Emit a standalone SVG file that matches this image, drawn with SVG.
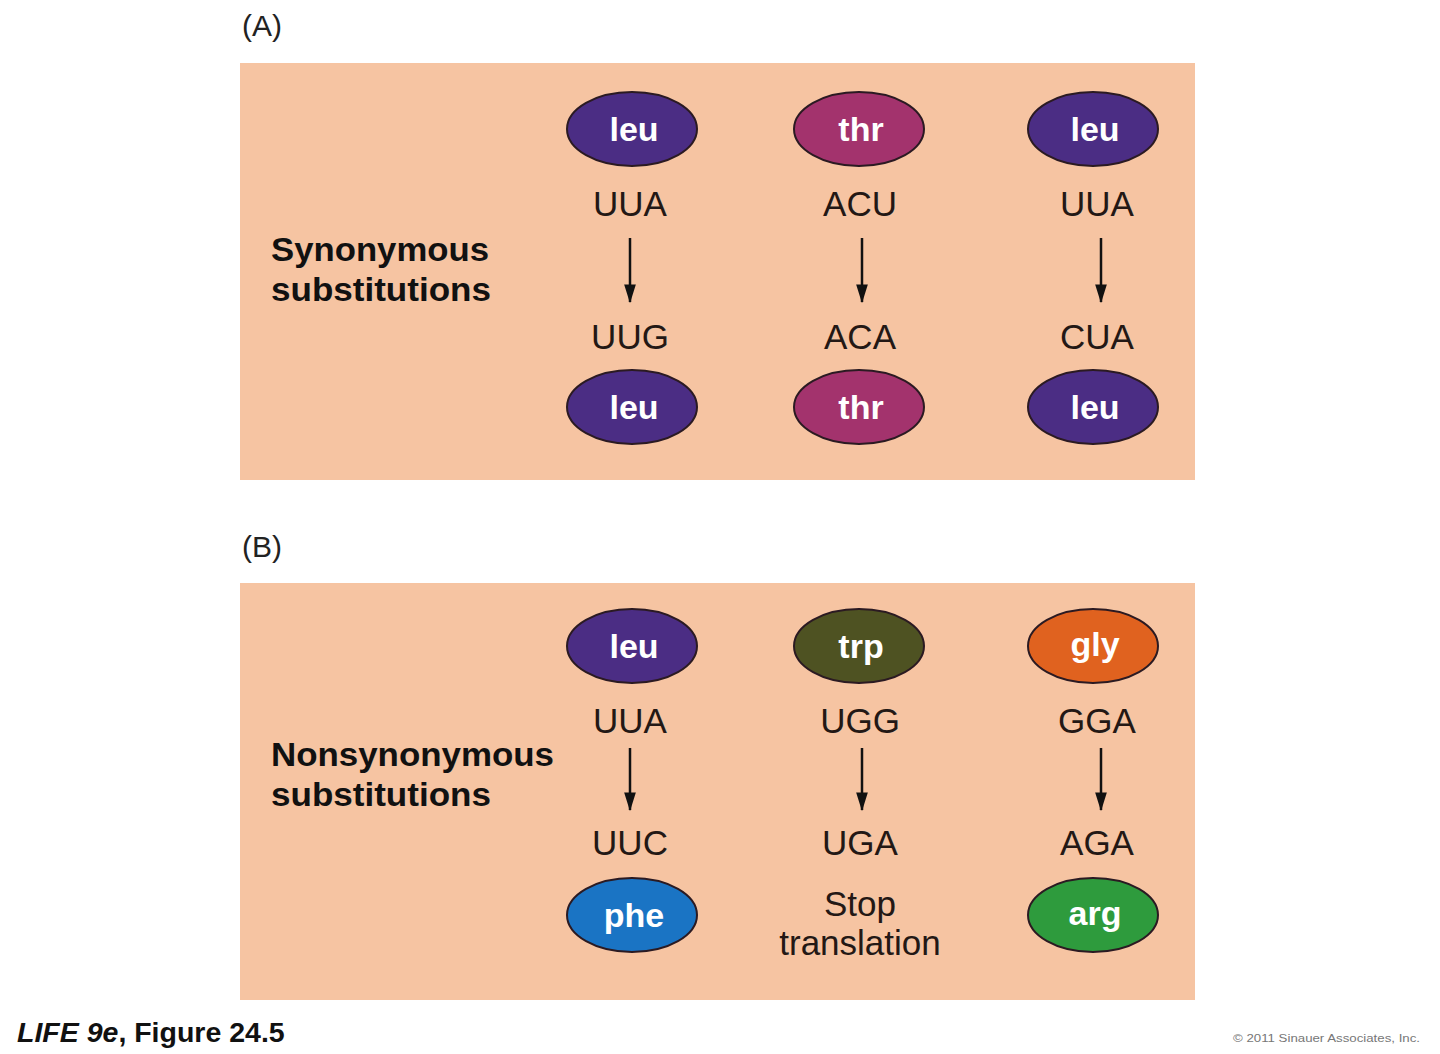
<svg xmlns="http://www.w3.org/2000/svg" width="1440" height="1054" viewBox="0 0 1440 1054">
<defs>
<style>
.panel{fill:#F6C4A2}
.aa{stroke:#2B1A22;stroke-width:2}
.aat{font-family:"Liberation Sans",Arial,sans-serif;font-weight:bold;font-size:34px;fill:#fff;text-anchor:middle}
.cod{font-family:"Liberation Sans",Arial,sans-serif;font-size:35px;fill:#231815;text-anchor:middle}
.lab{font-family:"Liberation Sans",Arial,sans-serif;font-weight:bold;font-size:33px;fill:#111}
.pl{font-family:"Liberation Sans",Arial,sans-serif;font-size:30px;fill:#222}
.arr{stroke:#111;stroke-width:2.5;fill:none;marker-end:url(#ah)}
</style>
<marker id="ah" viewBox="0 0 16 10" refX="15" refY="5" markerWidth="7.5" markerHeight="4.7" markerUnits="strokeWidth" orient="auto">
<path d="M0,0 L16,5 L0,10 Z" fill="#111"/>
</marker>
</defs>
<rect width="1440" height="1054" fill="#fff"/>
<text class="pl" x="242" y="36">(A)</text>
<text class="pl" x="242" y="557">(B)</text>
<rect class="panel" x="240" y="63" width="955" height="417"/>
<rect class="panel" x="240" y="583" width="955" height="417"/>
<text class="lab" x="271" y="261" textLength="218" lengthAdjust="spacingAndGlyphs">Synonymous</text>
<text class="lab" x="271" y="301" textLength="220" lengthAdjust="spacingAndGlyphs">substitutions</text>
<text class="lab" x="271" y="766" textLength="283" lengthAdjust="spacingAndGlyphs">Nonsynonymous</text>
<text class="lab" x="271" y="806" textLength="220" lengthAdjust="spacingAndGlyphs">substitutions</text>

<g id="a-leu1"><ellipse class="aa" cx="632" cy="129" rx="65" ry="37" fill="#4B2D84"/><text class="aat" x="634" y="141">leu</text></g>
<g id="a-thr1"><ellipse class="aa" cx="859" cy="129" rx="65" ry="37" fill="#A3336D"/><text class="aat" x="861" y="141">thr</text></g>
<g id="a-leu2"><ellipse class="aa" cx="1093" cy="129" rx="65" ry="37" fill="#4B2D84"/><text class="aat" x="1095" y="141">leu</text></g>
<g id="a-leu3"><ellipse class="aa" cx="632" cy="407" rx="65" ry="37" fill="#4B2D84"/><text class="aat" x="634" y="419">leu</text></g>
<g id="a-thr2"><ellipse class="aa" cx="859" cy="407" rx="65" ry="37" fill="#A3336D"/><text class="aat" x="861" y="419">thr</text></g>
<g id="a-leu4"><ellipse class="aa" cx="1093" cy="407" rx="65" ry="37" fill="#4B2D84"/><text class="aat" x="1095" y="419">leu</text></g>

<g id="b-leu"><ellipse class="aa" cx="632" cy="646" rx="65" ry="37" fill="#4B2D84"/><text class="aat" x="634" y="658">leu</text></g>
<g id="b-trp"><ellipse class="aa" cx="859" cy="646" rx="65" ry="37" fill="#4E5222"/><text class="aat" x="861" y="658">trp</text></g>
<g id="b-gly"><ellipse class="aa" cx="1093" cy="646" rx="65" ry="37" fill="#E0621F"/><text class="aat" x="1095" y="656">gly</text></g>
<g id="b-phe"><ellipse class="aa" cx="632" cy="915" rx="65" ry="37" fill="#1A74C4"/><text class="aat" x="634" y="927">phe</text></g>
<g id="b-stop"><text class="cod" x="860" y="916">Stop</text><text class="cod" x="860" y="955">translation</text></g>
<g id="b-arg"><ellipse class="aa" cx="1093" cy="915" rx="65" ry="37" fill="#2E9B3D"/><text class="aat" x="1095" y="925">arg</text></g>

<g id="codons">
<text class="cod" x="630" y="216">UUA</text>
<text class="cod" x="860" y="216">ACU</text>
<text class="cod" x="1097" y="216">UUA</text>
<text class="cod" x="630" y="349">UUG</text>
<text class="cod" x="860" y="349">ACA</text>
<text class="cod" x="1097" y="349">CUA</text>
<text class="cod" x="630" y="733">UUA</text>
<text class="cod" x="860" y="733">UGG</text>
<text class="cod" x="1097" y="733">GGA</text>
<text class="cod" x="630" y="855">UUC</text>
<text class="cod" x="860" y="855">UGA</text>
<text class="cod" x="1097" y="855">AGA</text>
</g>

<g id="connectors">
<line class="arr" x1="630" y1="238" x2="630" y2="302"/>
<line class="arr" x1="862" y1="238" x2="862" y2="302"/>
<line class="arr" x1="1101" y1="238" x2="1101" y2="302"/>
<line class="arr" x1="630" y1="748" x2="630" y2="810"/>
<line class="arr" x1="862" y1="748" x2="862" y2="810"/>
<line class="arr" x1="1101" y1="748" x2="1101" y2="810"/>
</g>

<text x="17" y="1042" font-family="'Liberation Sans',Arial,sans-serif" font-weight="bold" font-size="28.5" fill="#111"><tspan font-style="italic">LIFE 9e</tspan>, Figure 24.5</text>
<text x="1233" y="1042" font-family="'Liberation Sans',Arial,sans-serif" font-size="11.5" fill="#777" textLength="187" lengthAdjust="spacingAndGlyphs">© 2011 Sinauer Associates, Inc.</text>
</svg>
